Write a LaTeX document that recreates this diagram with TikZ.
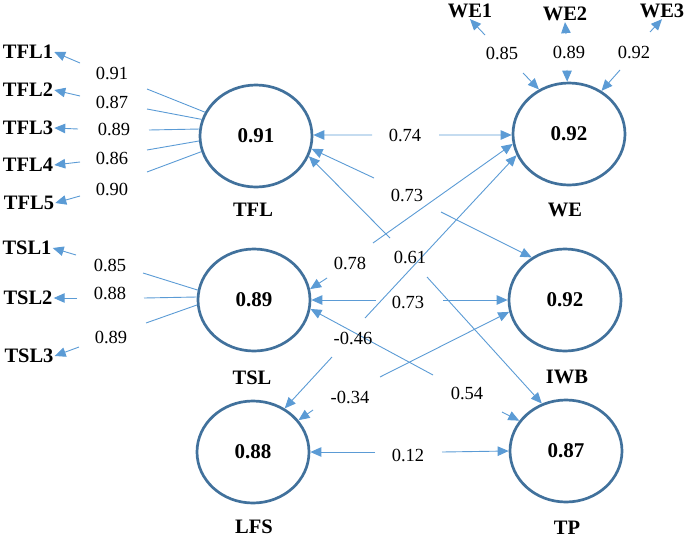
\documentclass[tikz,border=0pt]{standalone}
\usepackage{fontspec}
\setmainfont{Liberation Serif}
\usetikzlibrary{shapes.geometric,arrows.meta}
\definecolor{circ}{RGB}{65,113,156}
\definecolor{arrc}{RGB}{91,155,213}
\tikzset{
  lat/.style={ellipse, draw=circ, line width=2.7pt, minimum width=112pt, minimum height=102pt, inner sep=0pt, font=\bfseries\fontsize{21}{25}\selectfont},
  ind/.style={inner sep=1pt, font=\bfseries\fontsize{20.5}{24}\selectfont},
  val/.style={inner sep=1pt, font=\fontsize{18.5}{22}\selectfont},
  ln/.style={draw=arrc, line width=0.9pt},
  arr/.style={ln, -{Triangle[length=11pt,width=9.5pt]}},
}
\begin{document}
\begin{tikzpicture}[x=1pt,y=-1pt]
\useasboundingbox (0,0) rectangle (685,538);
% latent variables
\node[lat] (TFL) at (256,136) {0.91};
\node[lat] (WE)  at (569,134) {0.92};
\node[lat] (TSL) at (254,300) {0.89};
\node[lat] (IWB) at (565,300) {0.92};
\node[lat] (LFS) at (253,452) {0.88};
\node[lat] (TP)  at (566,451) {0.87};
\node[ind] (TFLl) at (253,210) {TFL};
\node[ind] (WEl)  at (565,210) {WE};
\node[ind] (TSLl) at (252,378) {TSL};
\node[ind] (IWBl) at (567,377) {IWB};
\node[ind] (LFSl) at (254,527) {LFS};
\node[ind] (TPl)  at (567,528) {TP};
% indicators
\node[ind] (TFL1) at (28,52) {TFL1};
\node[ind] (TFL2) at (28,90) {TFL2};
\node[ind] (TFL3) at (28,128) {TFL3};
\node[ind] (TFL4) at (28,165) {TFL4};
\node[ind] (TFL5) at (29,203) {TFL5};
\node[ind] (TSL1) at (27,248) {TSL1};
\node[ind] (TSL2) at (28,298) {TSL2};
\node[ind] (TSL3) at (29,356) {TSL3};
\node[ind] (WE1) at (470,11) {WE1};
\node[ind] (WE2) at (565,14) {WE2};
\node[ind] (WE3) at (662,11) {WE3};
% loading values
\node[val] at (112,73) {0.91};
\node[val] at (112,102) {0.87};
\node[val] at (114,129) {0.89};
\node[val] at (112,158) {0.86};
\node[val] at (112,189) {0.90};
\node[val] at (110,265) {0.85};
\node[val] at (110,293) {0.88};
\node[val] at (111,337) {0.89};
\node[val] at (502,53) {0.85};
\node[val] at (569,52) {0.89};
\node[val] at (634,52) {0.92};
% gap coordinates, TFL indicators
\coordinate (g11) at (147,89);  \coordinate (g12) at (80,63);
\coordinate (g21) at (147,109); \coordinate (g22) at (80,96);
\coordinate (g31) at (149,130); \coordinate (g32) at (78,129);
\coordinate (g41) at (147,150); \coordinate (g42) at (80,162);
\coordinate (g51) at (147,172); \coordinate (g52) at (80,196);
\draw[ln] (TFL.155.6) -- (g11); \draw[arr] (g12) -- (TFL1.east);
\draw[ln] (TFL.163.2) -- (g21); \draw[arr] (g22) -- (TFL2.east);
\draw[ln] (TFL.173.7) -- (g31); \draw[arr] (g32) -- (TFL3.east);
\draw[ln] (TFL.185.3) -- (g41); \draw[arr] (g42) -- (TFL4.east);
\draw[ln] (TFL.196.5) -- (g51); \draw[arr] (g52) -- (TFL5.east);
% TSL indicators
\coordinate (s11) at (143,273); \coordinate (s12) at (76,255);
\coordinate (s21) at (144,298); \coordinate (s22) at (77,298);
\coordinate (s31) at (146,323); \coordinate (s32) at (79,347);
\draw[ln] (TSL.170.2) -- (s11); \draw[arr] (s12) -- (TSL1.east);
\draw[ln] (TSL.177) -- (s21);   \draw[arr] (s22) -- (TSL2.east);
\draw[ln] (TSL.185) -- (s31);   \draw[arr] (s32) -- (TSL3.east);
% WE indicators
\coordinate (w11) at (523,73); \coordinate (w12) at (485,35);
\coordinate (w21) at (567,70); \coordinate (w22) at (566,34);
\coordinate (w31) at (620,70); \coordinate (w32) at (650,32);
\draw[arr] (w11) -- (WE.124.8); \draw[arr] (w12) -- (WE1.south);
\draw[arr] (w21) -- (WE.92);    \draw[arr] (w22) -- (WE2.south);
\draw[arr] (w31) -- (WE.53.9);  \draw[arr] (w32) -- (WE3.south);
% structural paths
\coordinate (a1) at (372,135); \coordinate (a2) at (439,135);
\coordinate (b1) at (374,178); \coordinate (b2) at (441,212);
\coordinate (c1) at (390,238); \coordinate (c2) at (427,277);
\coordinate (d1) at (373,243); \coordinate (d2) at (327,278);
\coordinate (e1) at (365,318); \coordinate (e2) at (332,357);
\coordinate (f1) at (433,375); \coordinate (f2) at (502,412);
\coordinate (h1) at (376,300); \coordinate (h2) at (443,300);
\coordinate (k1) at (380,377); \coordinate (k2) at (313,410);
\coordinate (m1) at (375,452); \coordinate (m2) at (442,452);
\draw[arr] (a1) -- (TFL.1);     \draw[arr] (a2) -- (WE.181);
\draw[arr] (b1) -- (TFL.-13.6); \draw[arr] (b2) -- (IWB.128.7);
\draw[arr] (c1) -- (TFL.-21.3); \draw[arr] (c2) -- (TP.117.6);
\draw[arr] (d1) -- (WE.190.6);  \draw[arr] (d2) -- (TSL.11.7);
\draw[arr] (e1) -- (WE.202.3);  \draw[arr] (e2) -- (LFS.54.5);
\draw[arr] (f1) -- (TSL.-9.8);  \draw[arr] (f2) -- (TP.147.7);
\draw[arr] (h1) -- (TSL.0);     \draw[arr] (h2) -- (IWB.180);
\draw[arr] (k1) -- (IWB.192.8); \draw[arr] (k2) -- (LFS.35.5);
\draw[arr] (m1) -- (LFS.0);     \draw[arr] (m2) -- (TP.180);
\node[val] at (405,135) {0.74};
\node[val] at (407,195) {0.73};
\node[val] at (410,257) {0.61};
\node[val] at (350,263) {0.78};
\node[val] at (353,338) {-0.46};
\node[val] at (408,302) {0.73};
\node[val] at (467,393) {0.54};
\node[val] at (350,397) {-0.34};
\node[val] at (408,455) {0.12};
\end{tikzpicture}
\end{document}
